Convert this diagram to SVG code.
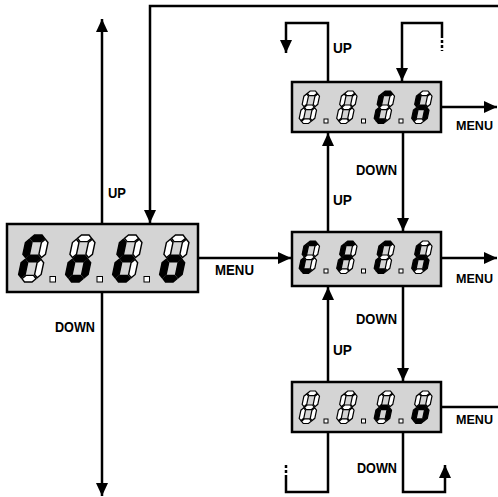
<svg xmlns="http://www.w3.org/2000/svg" width="498" height="497" viewBox="0 0 498 497">
<style>
.box{fill:#d4d4d4;stroke:#000;stroke-width:2.5}
.on{fill:#000;stroke:#000;stroke-width:1.4}
.off{fill:#fff;stroke:#000;stroke-width:1.4}
.sm .on,.sm .off{stroke-width:1.2}
.dp{fill:#fff;stroke:#000;stroke-width:1}
.ln{fill:none;stroke:#000;stroke-width:2.5}
.dash{fill:none;stroke:#000;stroke-width:2.5;stroke-dasharray:3 2}
.lbl{font-family:"Liberation Sans",Arial,sans-serif;font-weight:bold;font-size:15px;fill:#000}
.lbs{font-family:"Liberation Sans",Arial,sans-serif;font-weight:bold;font-size:13px;fill:#000}
</style>
<defs>
<marker id="ah" markerUnits="userSpaceOnUse" markerWidth="13" markerHeight="12" refX="13" refY="6" orient="auto">
<path d="M0,0 L13,6 L0,12 z" fill="#000"/>
</marker>
<polygon id="sa" vector-effect="non-scaling-stroke" points="9,7 16,0 32,0 39,7 32,14 16,14"/>
<polygon id="sg" vector-effect="non-scaling-stroke" points="9,50 16,43 32,43 39,50 32,57 16,57"/>
<polygon id="sd" vector-effect="non-scaling-stroke" points="9,93 16,86 32,86 39,93 32,100 16,100"/>
<polygon id="sf" vector-effect="non-scaling-stroke" points="7,9 14,16 14,41 7,48 0,41 0,16"/>
<polygon id="se" vector-effect="non-scaling-stroke" points="7,52 14,59 14,84 7,91 0,84 0,59"/>
<polygon id="sb" vector-effect="non-scaling-stroke" points="41,9 48,16 48,41 41,48 34,41 34,16"/>
<polygon id="sc" vector-effect="non-scaling-stroke" points="41,52 48,59 48,84 41,91 34,84 34,59"/>
</defs>

<g id="connectors">
<path class="ln" d="M498,6 H150 V223" marker-end="url(#ah)"/>
<path class="ln" d="M102,224 V19" marker-end="url(#ah)"/>
<path class="ln" d="M102,292 V496" marker-end="url(#ah)"/>
<path class="ln" d="M198,258 H291" marker-end="url(#ah)"/>
<path class="ln" d="M328,232 V133" marker-end="url(#ah)"/>
<path class="ln" d="M403,132 V231" marker-end="url(#ah)"/>
<path class="ln" d="M328,382 V287" marker-end="url(#ah)"/>
<path class="ln" d="M403,286 V381" marker-end="url(#ah)"/>
<path class="ln" d="M328,82 V23 H286 V53" marker-end="url(#ah)"/>
<path class="ln" d="M442,35 V23 H402 V81" marker-end="url(#ah)"/>
<path class="dash" d="M442,35 V51"/>
<path class="ln" d="M328,432 V492 H286 V478"/>
<path class="dash" d="M286,478 V465"/>
<path class="ln" d="M403,432 V492 H445 V465" marker-end="url(#ah)"/>
<path class="ln" d="M441,107 H497" marker-end="url(#ah)"/>
<path class="ln" d="M441,258 H497" marker-end="url(#ah)"/>
<path class="ln" d="M441,407 H498"/>
</g>

<g id="labels">
<text class="lbl" x="108" y="198" textLength="18" lengthAdjust="spacingAndGlyphs">UP</text>
<text class="lbl" x="55" y="332" textLength="40" lengthAdjust="spacingAndGlyphs">DOWN</text>
<text class="lbl" x="215" y="275" textLength="39" lengthAdjust="spacingAndGlyphs">MENU</text>
<text class="lbl" x="333" y="53" textLength="19" lengthAdjust="spacingAndGlyphs">UP</text>
<text class="lbl" x="356" y="175" textLength="41" lengthAdjust="spacingAndGlyphs">DOWN</text>
<text class="lbl" x="333" y="205" textLength="19" lengthAdjust="spacingAndGlyphs">UP</text>
<text class="lbl" x="356" y="324" textLength="41" lengthAdjust="spacingAndGlyphs">DOWN</text>
<text class="lbl" x="333" y="355" textLength="19" lengthAdjust="spacingAndGlyphs">UP</text>
<text class="lbl" x="357" y="473" textLength="40" lengthAdjust="spacingAndGlyphs">DOWN</text>
<text class="lbs" x="456" y="130" textLength="37" lengthAdjust="spacingAndGlyphs">MENU</text>
<text class="lbs" x="456" y="283" textLength="37" lengthAdjust="spacingAndGlyphs">MENU</text>
<text class="lbs" x="456" y="424" textLength="37" lengthAdjust="spacingAndGlyphs">MENU</text>
</g>

<!-- Box 1: F.o.t.o -->
<g id="foto">
<rect class="box" x="7" y="224" width="191" height="68"/>
<g transform="translate(27,235) scale(0.47) skewX(-12)">
<use href="#sa" class="on"/><use href="#sb" class="off"/><use href="#sc" class="off"/><use href="#sd" class="off"/><use href="#se" class="on"/><use href="#sf" class="on"/><use href="#sg" class="on"/>
</g>
<g transform="translate(74,235) scale(0.47) skewX(-12)">
<use href="#sa" class="off"/><use href="#sb" class="off"/><use href="#sc" class="on"/><use href="#sd" class="on"/><use href="#se" class="on"/><use href="#sf" class="off"/><use href="#sg" class="on"/>
</g>
<g transform="translate(121,235) scale(0.47) skewX(-12)">
<use href="#sa" class="off"/><use href="#sb" class="off"/><use href="#sc" class="off"/><use href="#sd" class="on"/><use href="#se" class="on"/><use href="#sf" class="on"/><use href="#sg" class="on"/>
</g>
<g transform="translate(168,235) scale(0.47) skewX(-12)">
<use href="#sa" class="off"/><use href="#sb" class="off"/><use href="#sc" class="on"/><use href="#sd" class="on"/><use href="#se" class="on"/><use href="#sf" class="off"/><use href="#sg" class="on"/>
</g>
<rect class="dp" x="50" y="276.5" width="5.5" height="5.5"/>
<rect class="dp" x="97" y="276.5" width="5.5" height="5.5"/>
<rect class="dp" x="144" y="276.5" width="5.5" height="5.5"/>
</g>

<!-- Box 2: 8.8.C.h -->
<g id="ch" class="sm">
<rect class="box" x="292" y="82" width="149" height="50"/>
<g transform="translate(305,91) scale(0.325) skewX(-12)">
<use href="#sa" class="off"/><use href="#sb" class="off"/><use href="#sc" class="off"/><use href="#sd" class="off"/><use href="#se" class="off"/><use href="#sf" class="off"/><use href="#sg" class="off"/>
</g>
<g transform="translate(342.5,91) scale(0.325) skewX(-12)">
<use href="#sa" class="off"/><use href="#sb" class="off"/><use href="#sc" class="off"/><use href="#sd" class="off"/><use href="#se" class="off"/><use href="#sf" class="off"/><use href="#sg" class="off"/>
</g>
<g transform="translate(380,91) scale(0.325) skewX(-12)">
<use href="#sa" class="on"/><use href="#sb" class="off"/><use href="#sc" class="off"/><use href="#sd" class="on"/><use href="#se" class="on"/><use href="#sf" class="on"/><use href="#sg" class="off"/>
</g>
<g transform="translate(417.5,91) scale(0.325) skewX(-12)">
<use href="#sa" class="off"/><use href="#sb" class="off"/><use href="#sc" class="on"/><use href="#sd" class="off"/><use href="#se" class="on"/><use href="#sf" class="on"/><use href="#sg" class="on"/>
</g>
<rect class="dp" x="324" y="119" width="4" height="4"/>
<rect class="dp" x="361.5" y="119" width="4" height="4"/>
<rect class="dp" x="399" y="119" width="4" height="4"/>
</g>

<!-- Box 3: C.F.C.h -->
<g id="cfch" class="sm">
<rect class="box" x="292" y="232" width="149" height="54"/>
<g transform="translate(305,241) scale(0.325) skewX(-12)">
<use href="#sa" class="on"/><use href="#sb" class="off"/><use href="#sc" class="off"/><use href="#sd" class="on"/><use href="#se" class="on"/><use href="#sf" class="on"/><use href="#sg" class="off"/>
</g>
<g transform="translate(342.5,241) scale(0.325) skewX(-12)">
<use href="#sa" class="on"/><use href="#sb" class="off"/><use href="#sc" class="off"/><use href="#sd" class="off"/><use href="#se" class="on"/><use href="#sf" class="on"/><use href="#sg" class="on"/>
</g>
<g transform="translate(380,241) scale(0.325) skewX(-12)">
<use href="#sa" class="on"/><use href="#sb" class="off"/><use href="#sc" class="off"/><use href="#sd" class="on"/><use href="#se" class="on"/><use href="#sf" class="on"/><use href="#sg" class="off"/>
</g>
<g transform="translate(417.5,241) scale(0.325) skewX(-12)">
<use href="#sa" class="off"/><use href="#sb" class="off"/><use href="#sc" class="on"/><use href="#sd" class="off"/><use href="#se" class="on"/><use href="#sf" class="on"/><use href="#sg" class="on"/>
</g>
<rect class="dp" x="324" y="269" width="4" height="4"/>
<rect class="dp" x="361.5" y="269" width="4" height="4"/>
<rect class="dp" x="399" y="269" width="4" height="4"/>
</g>

<!-- Box 4: 8.8.n.o -->
<g id="no" class="sm">
<rect class="box" x="292" y="382" width="149" height="50"/>
<g transform="translate(305,391) scale(0.325) skewX(-12)">
<use href="#sa" class="off"/><use href="#sb" class="off"/><use href="#sc" class="off"/><use href="#sd" class="off"/><use href="#se" class="off"/><use href="#sf" class="off"/><use href="#sg" class="off"/>
</g>
<g transform="translate(342.5,391) scale(0.325) skewX(-12)">
<use href="#sa" class="off"/><use href="#sb" class="off"/><use href="#sc" class="off"/><use href="#sd" class="off"/><use href="#se" class="off"/><use href="#sf" class="off"/><use href="#sg" class="off"/>
</g>
<g transform="translate(380,391) scale(0.325) skewX(-12)">
<use href="#sa" class="off"/><use href="#sb" class="off"/><use href="#sc" class="on"/><use href="#sd" class="off"/><use href="#se" class="on"/><use href="#sf" class="off"/><use href="#sg" class="on"/>
</g>
<g transform="translate(417.5,391) scale(0.325) skewX(-12)">
<use href="#sa" class="off"/><use href="#sb" class="off"/><use href="#sc" class="on"/><use href="#sd" class="on"/><use href="#se" class="on"/><use href="#sf" class="off"/><use href="#sg" class="on"/>
</g>
<rect class="dp" x="324" y="419" width="4" height="4"/>
<rect class="dp" x="361.5" y="419" width="4" height="4"/>
<rect class="dp" x="399" y="419" width="4" height="4"/>
</g>
</svg>
